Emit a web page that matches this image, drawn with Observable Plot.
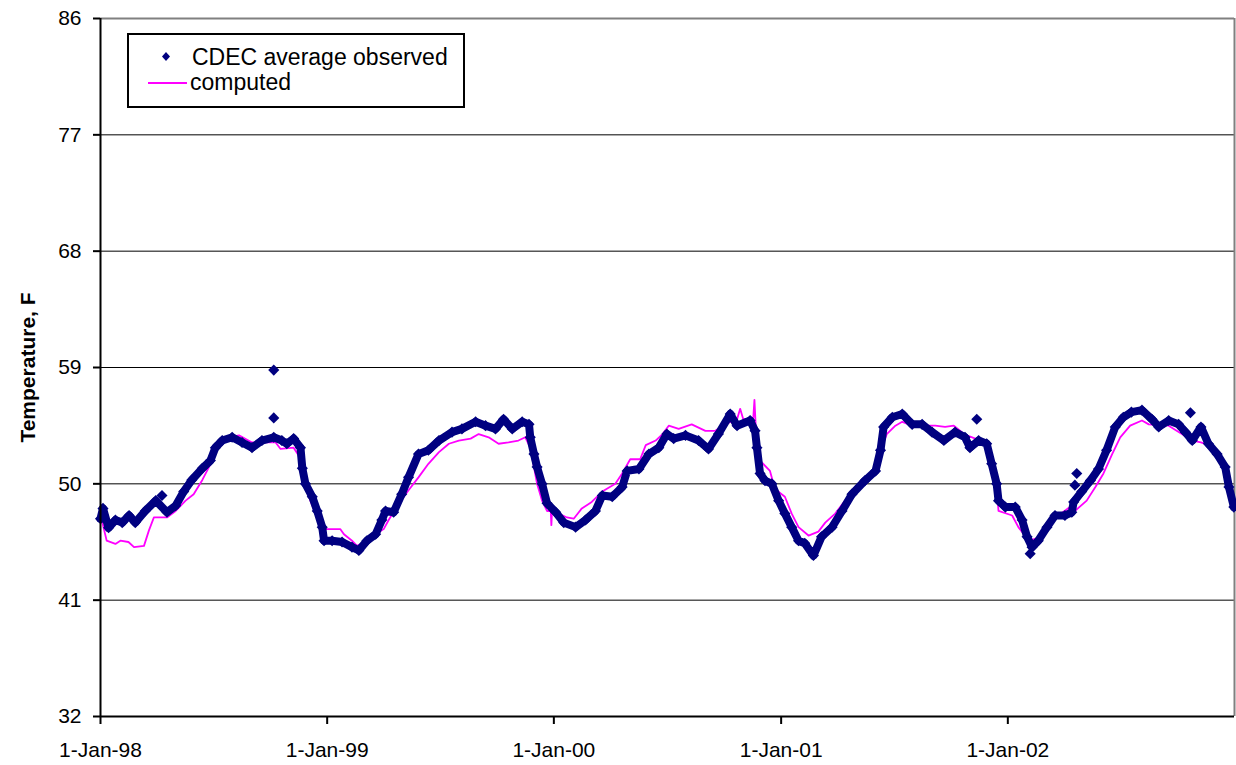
<!DOCTYPE html>
<html>
<head>
<meta charset="utf-8">
<script src="https://cdn.jsdelivr.net/npm/d3@7"></script>
<script src="https://cdn.jsdelivr.net/npm/@observablehq/plot@0.6"></script>
<style>
  html, body { margin: 0; padding: 0; background: #fff; }
  #wrap { position: relative; width: 1236px; height: 765px; font-family: 'Liberation Sans', Arial, sans-serif; }
  #legend { position: absolute; left: 127px; top: 33px; width: 338px; height: 75px; box-sizing: border-box; border: 2px solid #000; background: #fff; }
</style>
</head>
<body>
<div id="wrap"></div>
<script>
// ---- data ----
const obsDates = ["1998-01-01","1998-01-05","1998-01-14","1998-01-25","1998-02-05","1998-02-16","1998-02-26","1998-03-14","1998-03-31","1998-04-18","1998-05-02","1998-05-15","1998-05-28","1998-06-14","1998-06-27","1998-07-05","1998-07-16","1998-08-01","1998-08-17","1998-09-02","1998-09-18","1998-10-07","1998-10-20","1998-10-28","1998-11-08","1998-11-19","1998-11-22","1998-11-27","1998-12-08","1998-12-16","1998-12-24","1998-12-27",
"1999-01-09","1999-01-25","1999-02-10","1999-02-21","1999-03-06","1999-03-20","1999-03-30","1999-04-05","1999-04-18","1999-05-01","1999-05-12","1999-05-28","1999-06-13","1999-06-30","1999-07-21","1999-08-06","1999-08-28","1999-09-13","1999-09-29","1999-10-12","1999-10-26","1999-11-11","1999-11-22","1999-11-24","1999-11-30","1999-12-05","1999-12-13","1999-12-21",
"2000-01-04","2000-01-17","2000-02-05","2000-02-21","2000-03-08","2000-03-19","2000-04-04","2000-04-20","2000-04-28","2000-05-17","2000-06-02","2000-06-18","2000-07-01","2000-07-12","2000-07-31","2000-08-21","2000-09-06","2000-09-22","2000-10-11","2000-10-22","2000-11-12","2000-11-20","2000-11-23","2000-11-28","2000-12-06","2000-12-17","2000-12-28",
"2001-01-07","2001-01-18","2001-01-29","2001-02-08","2001-02-22","2001-03-07","2001-03-24","2001-04-09","2001-04-25","2001-05-16","2001-06-02","2001-06-10","2001-06-15","2001-06-29","2001-07-15","2001-07-31","2001-08-16","2001-09-01","2001-09-20","2001-10-08","2001-10-24","2001-11-01","2001-11-15","2001-11-28","2001-12-06","2001-12-14","2001-12-17","2001-12-28",
"2002-01-13","2002-01-24","2002-02-01","2002-02-09","2002-02-19","2002-03-05","2002-03-18","2002-04-03","2002-04-14","2002-04-17","2002-04-30","2002-05-14","2002-05-27","2002-06-09","2002-06-23","2002-07-06","2002-07-19","2002-08-05","2002-08-21","2002-09-01","2002-09-17","2002-10-03","2002-10-14","2002-10-25","2002-11-08","2002-11-20","2002-12-04","2002-12-17","2002-12-23","2002-12-31"];
const obsValues = [47.3,48.1,46.6,47.2,47.0,47.55,47.0,47.9,48.7,47.8,48.3,49.4,50.3,51.2,51.8,52.8,53.35,53.6,53.2,52.8,53.35,53.6,53.35,53.1,53.5,52.8,51.2,50.0,49.0,47.9,46.65,45.6,
45.6,45.5,45.1,44.85,45.6,46.1,47.2,47.9,47.8,49.2,50.5,52.3,52.6,53.35,54.0,54.25,54.8,54.5,54.25,55.0,54.25,54.8,54.6,53.6,52.3,51.3,50.0,48.5,
47.8,47.0,46.65,47.2,47.9,49.1,49.0,49.75,51.0,51.15,52.3,52.8,53.85,53.5,53.75,53.35,52.7,53.85,55.4,54.5,54.9,54.1,52.8,50.8,50.25,50.0,48.7,
47.7,46.65,45.6,45.4,44.45,45.9,46.65,47.9,49.2,50.25,51.0,52.6,54.4,55.15,55.4,54.6,54.6,54.0,53.35,54.0,53.6,52.8,53.35,53.1,51.55,50.0,48.7,48.2,
48.2,47.2,45.9,45.1,45.6,46.65,47.55,47.55,47.8,48.6,49.4,50.25,51.15,52.6,54.4,55.15,55.55,55.7,55.0,54.4,54.9,54.6,54.0,53.35,54.4,53.1,52.3,51.3,49.75,48.2];

// isolated observed readings away from the main trace
const obsExtraDates = ["1998-04-10","1998-10-07","1998-10-07","2001-11-12","2002-02-06","2002-04-19","2002-04-22","2002-10-22"];
const obsExtraValues = [49.1,58.8,55.1,55.0,44.6,49.9,50.8,55.5];

const compDates = ["1998-01-01","1998-01-04","1998-01-11","1998-01-25","1998-02-02","1998-02-15","1998-02-24","1998-03-12","1998-03-20","1998-03-28","1998-04-18","1998-05-02","1998-05-18","1998-05-31","1998-06-14","1998-06-30","1998-07-08","1998-07-16","1998-08-12","1998-09-02","1998-10-10","1998-10-18","1998-11-08","1998-11-16","1998-11-19","1998-11-27","1998-12-05","1998-12-13","1998-12-24","1998-12-29",
"1999-01-22","1999-01-28","1999-02-10","1999-02-18","1999-03-07","1999-03-20","1999-04-02","1999-04-10","1999-04-26","1999-05-12","1999-05-28","1999-06-13","1999-06-30","1999-07-16","1999-08-01","1999-08-20","1999-09-02","1999-09-18","1999-10-04","1999-10-20","1999-11-05","1999-11-16","1999-11-24","1999-11-30","1999-12-05","1999-12-13","1999-12-21","1999-12-27","1999-12-28","1999-12-29",
"2000-01-09","2000-01-22","2000-02-02","2000-02-15","2000-03-02","2000-03-19","2000-04-09","2000-04-20","2000-05-03","2000-05-19","2000-05-28","2000-06-13","2000-06-24","2000-07-04","2000-07-20","2000-08-10","2000-09-01","2000-09-17","2000-10-02","2000-10-22","2000-10-27","2000-11-01","2000-11-17","2000-11-19","2000-11-21","2000-11-26","2000-11-28","2000-12-14","2000-12-22",
"2001-01-07","2001-01-18","2001-01-29","2001-02-14","2001-03-02","2001-03-13","2001-03-29","2001-04-14","2001-04-30","2001-05-16","2001-06-02","2001-06-12","2001-06-20","2001-07-04","2001-07-15","2001-07-31","2001-08-21","2001-09-06","2001-09-22","2001-10-06","2001-10-24","2001-11-15","2001-11-28","2001-12-06","2001-12-14","2001-12-17",
"2002-01-08","2002-01-18","2002-02-04","2002-02-25","2002-03-13","2002-04-11","2002-04-19","2002-05-08","2002-05-22","2002-06-04","2002-06-18","2002-07-01","2002-07-17","2002-08-05","2002-08-16","2002-09-17","2002-10-25","2002-11-08","2002-11-20","2002-12-04","2002-12-17","2002-12-23","2002-12-31"];
const compValues = [47.3,47.0,45.6,45.35,45.6,45.5,45.1,45.2,46.4,47.4,47.4,47.9,48.7,49.2,50.3,51.8,53.2,53.5,53.75,53.2,53.2,52.7,52.8,52.2,51.3,49.75,48.7,47.7,46.8,46.5,
46.5,46.1,45.6,45.2,45.6,46.1,46.5,47.2,48.45,49.5,50.5,51.55,52.45,53.1,53.35,53.5,53.85,53.6,53.1,53.2,53.35,53.6,52.8,51.3,50.0,48.7,47.9,47.9,46.8,47.8,
47.7,47.4,47.3,48.1,48.6,49.4,50.0,50.8,51.9,51.9,53.0,53.35,53.85,54.5,54.25,54.6,54.1,54.1,54.6,55.0,55.8,55.0,55.0,56.5,54.5,52.3,51.8,51.0,49.6,
49.0,47.7,46.65,46.0,46.3,47.0,47.7,48.7,49.75,50.1,51.0,52.8,53.85,54.5,54.8,54.5,54.5,54.5,54.4,54.5,53.8,53.4,53.2,51.6,49.8,47.9,
47.55,46.65,45.6,45.9,47.2,48.2,47.9,48.7,49.75,50.8,52.3,53.6,54.5,54.9,54.6,54.5,53.35,53.2,53.0,52.2,51.2,49.7,48.1];

const xDomain = ["1998-01-01","2003-01-01"];
const xTicks = ["1998-01-01","1999-01-01","2000-01-01","2001-01-01","2002-01-01"];
const xTickLabels = ["1-Jan-98","1-Jan-99","1-Jan-00","1-Jan-01","1-Jan-02"];
const yTicks = [32,41,50,59,68,77,86];
const yLabel = "Temperature, F";
const seriesNames = ["CDEC average observed","computed"];

// ---- build ----
const parse = d3.utcParse("%Y-%m-%d");
const obs = obsDates.map((d,i) => ({date: parse(d), value: obsValues[i]}));
const obsExtra = obsExtraDates.map((d,i) => ({date: parse(d), value: obsExtraValues[i]}));
const comp = compDates.map((d,i) => ({date: parse(d), value: compValues[i]}));
const xd = xDomain.map(parse);
const xt = xTicks.map(parse);
const labelOf = new Map(xt.map((d,i) => [+d, xTickLabels[i]]));
const font = "'Liberation Sans', Arial, sans-serif";
const NAVY = "#000080", MAGENTA = "#ff00ff";

const chart = Plot.plot({
  width: 1236, height: 765,
  marginLeft: 100, marginRight: 2, marginTop: 18, marginBottom: 49,
  style: {fontFamily: font, fontSize: "21px", background: "#fff", color: "#000"},
  x: {type: "utc", domain: xd},
  y: {domain: [32, 86]},
  marks: [
    Plot.ruleY(yTicks.slice(1, -1), {stroke: "#000", strokeWidth: 1}),
    Plot.ruleY([yTicks[yTicks.length - 1]], {stroke: "#808080", strokeWidth: 2}),
    Plot.ruleX([xd[1]], {stroke: "#808080", strokeWidth: 2}),
    Plot.line(comp, {x: "date", y: "value", stroke: MAGENTA, strokeWidth: 1.8}),
    Plot.line(obs, {x: "date", y: "value", stroke: NAVY, strokeWidth: 8, strokeLinejoin: "round", strokeLinecap: "round"}),
    Plot.dot(obs.concat(obsExtra), {x: "date", y: "value", symbol: "diamond2", r: 5, fill: NAVY, stroke: "none"}),
    Plot.axisY({ticks: yTicks, tickSize: 7, tickPadding: 12, label: null, fontSize: 21, stroke: "#000", strokeWidth: 2}),
    Plot.axisX({ticks: xt, tickFormat: d => labelOf.get(+d), tickSize: 8, tickPadding: 18, label: null, fontSize: 21, stroke: "#000", strokeWidth: 2}),
    Plot.ruleX([xd[0]], {stroke: "#000", strokeWidth: 2}),
    Plot.ruleY([32], {stroke: "#000", strokeWidth: 2}),
    Plot.text([yLabel], {frameAnchor: "left", textAnchor: "middle", rotate: -90, dx: -72, fontWeight: "bold", fontSize: 21, fill: "#000"})
  ]
});

const wrap = document.getElementById("wrap");
wrap.appendChild(chart);

// legend
const legend = document.createElement("div");
legend.id = "legend";
const ns = "http://www.w3.org/2000/svg";
const lsvg = document.createElementNS(ns, "svg");
lsvg.setAttribute("width", 334); lsvg.setAttribute("height", 71);
lsvg.style.display = "block";
const dia = document.createElementNS(ns, "path");
dia.setAttribute("d", "M37,17 L41,21.5 L37,26 L33,21.5 Z");
dia.setAttribute("fill", NAVY);
lsvg.appendChild(dia);
const ln = document.createElementNS(ns, "line");
ln.setAttribute("x1", 19); ln.setAttribute("x2", 58); ln.setAttribute("y1", 48); ln.setAttribute("y2", 48);
ln.setAttribute("stroke", MAGENTA); ln.setAttribute("stroke-width", 1.8);
lsvg.appendChild(ln);
[[63, 30, seriesNames[0]], [61, 55, seriesNames[1]]].forEach(([x, y, t]) => {
  const tx = document.createElementNS(ns, "text");
  tx.setAttribute("x", x); tx.setAttribute("y", y);
  tx.setAttribute("font-family", font); tx.setAttribute("font-size", 23);
  tx.textContent = t;
  lsvg.appendChild(tx);
});
legend.appendChild(lsvg);
wrap.appendChild(legend);
</script>
</body>
</html>
